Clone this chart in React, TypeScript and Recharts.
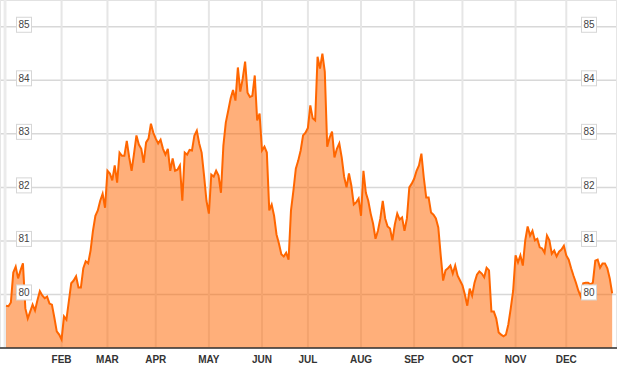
import React from "react";
import {
  AreaChart,
  Area,
  XAxis,
  YAxis,
  CartesianGrid,
  ReferenceArea,
} from "recharts";

// month labels and the trading-day index each month starts on
const MONTHS = ["FEB", "MAR", "APR", "MAY", "JUN", "JUL", "AUG", "SEP", "OCT", "NOV", "DEC"];
const MONTH_START = [23, 42, 62, 84, 106, 125, 147, 169, 189, 211, 232];

const Y_TICKS = [80, 81, 82, 83, 84, 85];

// one value per trading day
const VALUES = [
  79.79, 79.78, 79.85, 80.41, 80.52, 80.3, 80.45, 80.58, 79.74, 79.55,
  79.68, 79.81, 79.7, 79.89, 80.06, 79.98, 79.93, 79.96, 79.83, 79.81,
  79.57, 79.31, 79.25, 79.16, 79.59, 79.53, 79.87, 80.21, 80.26, 80.34,
  80.13, 80.13, 80.49, 80.62, 80.58, 80.82, 81.19, 81.47, 81.57, 81.75,
  81.88, 81.62, 82.31, 82.26, 82.13, 82.41, 82.09, 82.65, 82.59, 82.59,
  82.87, 82.56, 82.31, 82.63, 82.97, 82.8, 82.72, 82.46, 82.84, 82.91,
  83.19, 83.02, 82.91, 82.82, 82.89, 82.72, 82.61, 82.72, 82.31, 82.54,
  82.31, 82.33, 82.41, 81.75, 82.65, 82.61, 82.7, 82.69, 82.97, 83.06,
  82.82, 82.65, 82.22, 81.75, 81.51, 82.24, 82.2, 82.31, 82.22, 81.9,
  82.78, 83.21, 83.43, 83.66, 83.82, 83.62, 84.24, 83.79, 84.03, 84.35,
  83.77, 83.69, 83.71, 84.09, 83.25, 83.38, 82.69, 82.76, 82.65, 81.57,
  81.68, 81.47, 81.12, 80.95, 80.75, 80.71, 80.78, 80.65, 81.57, 81.94,
  82.35, 82.5, 82.69, 82.97, 83.02, 83.11, 83.53, 83.29, 83.25, 84.44,
  84.22, 84.5, 84.16, 82.76, 82.93, 83.04, 82.56, 82.72, 82.82, 82.56,
  82.2, 82.0, 82.26, 82.03, 81.68, 81.72, 81.79, 81.47, 82.31, 81.9,
  81.75, 81.51, 81.32, 81.04, 81.19, 81.42, 81.75, 81.42, 81.27, 81.23,
  81.01, 81.31, 81.51, 81.4, 81.44, 81.19, 81.42, 82.0, 82.07, 82.16,
  82.31, 82.41, 82.63, 82.18, 81.81, 81.81, 81.53, 81.49, 81.42, 81.25,
  80.73, 80.26, 80.45, 80.49, 80.54, 80.39, 80.54, 80.35, 80.26, 80.17,
  80.0, 79.79, 80.11, 79.98, 80.22, 80.37, 80.43, 80.39, 80.32, 80.5,
  80.45, 79.68, 79.68, 79.55, 79.29, 79.25, 79.22, 79.25, 79.44, 79.74,
  80.07, 80.73, 80.6, 80.73, 80.54, 81.01, 81.27, 81.1, 81.19, 81.01,
  81.04, 80.88, 80.86, 80.78, 81.1, 81.01, 80.76, 80.82, 80.71, 80.8,
  80.84, 80.91, 80.73, 80.65, 80.49, 80.35, 80.22, 80.07, 79.96, 80.21,
  80.22, 80.22, 80.19, 80.22, 80.63, 80.65, 80.5, 80.58, 80.58, 80.49,
  80.3, 80.02,
];

const data = VALUES.map((v, i) => ({ day: i, value: v }));

const FONT = "'Liberation Sans', Arial, sans-serif";

// the value labels sit in small white boxes on both edges of the plot
function BoxTick(props: any) {
  const { y, payload } = props;
  const box = (left: number) => (
    <g key={left}>
      <rect x={left} y={y - 9.5} width={15} height={15} fill="#fff" stroke="#d6d6d6" />
      <text
        x={left + 7.5}
        y={y - 2}
        textAnchor="middle"
        dominantBaseline="central"
        fontSize={10}
        fontFamily={FONT}
        fill="#444"
      >
        {payload.value}
      </text>
    </g>
  );
  return (
    <g>
      {box(16.5)}
      {box(581.5)}
    </g>
  );
}

export default function App() {
  return (
    <div style={{ position: "absolute", left: 0, top: 0 }}>
      <AreaChart
        width={617}
        height={366}
        data={data}
        margin={{ top: 0, right: 0, bottom: 0, left: 0 }}
      >
        <ReferenceArea x1={-1} x2={0.2} fill="#ebebeb" fillOpacity={1} stroke="none" />
        <CartesianGrid vertical={false} stroke="#d8d8d8" strokeWidth={1.5} />
        <CartesianGrid horizontal={false} stroke="#e6e6e6" strokeWidth={2} />
        <XAxis
          dataKey="day"
          type="number"
          domain={[-2.5, 253]}
          allowDataOverflow
          ticks={MONTH_START}
          interval={0}
          tickFormatter={(v: number) => MONTHS[MONTH_START.indexOf(v)]}
          tickLine={false}
          axisLine={{ stroke: "#333", strokeWidth: 1.5 }}
          height={18}
          tickMargin={2}
          tick={{ fontSize: 10, fontWeight: "bold", fill: "#333", fontFamily: FONT }}
        />
        <Area
          type="linear"
          dataKey="value"
          stroke="#ff6600"
          strokeWidth={2}
          fill="#ff6600"
          fillOpacity={0.52}
          isAnimationActive={false}
          dot={false}
          activeDot={false}
        />
        <YAxis
          domain={[79, 85.5]}
          ticks={Y_TICKS}
          interval={0}
          width={1}
          mirror
          axisLine={false}
          tickLine={false}
          tick={<BoxTick />}
        />
      </AreaChart>
    </div>
  );
}
